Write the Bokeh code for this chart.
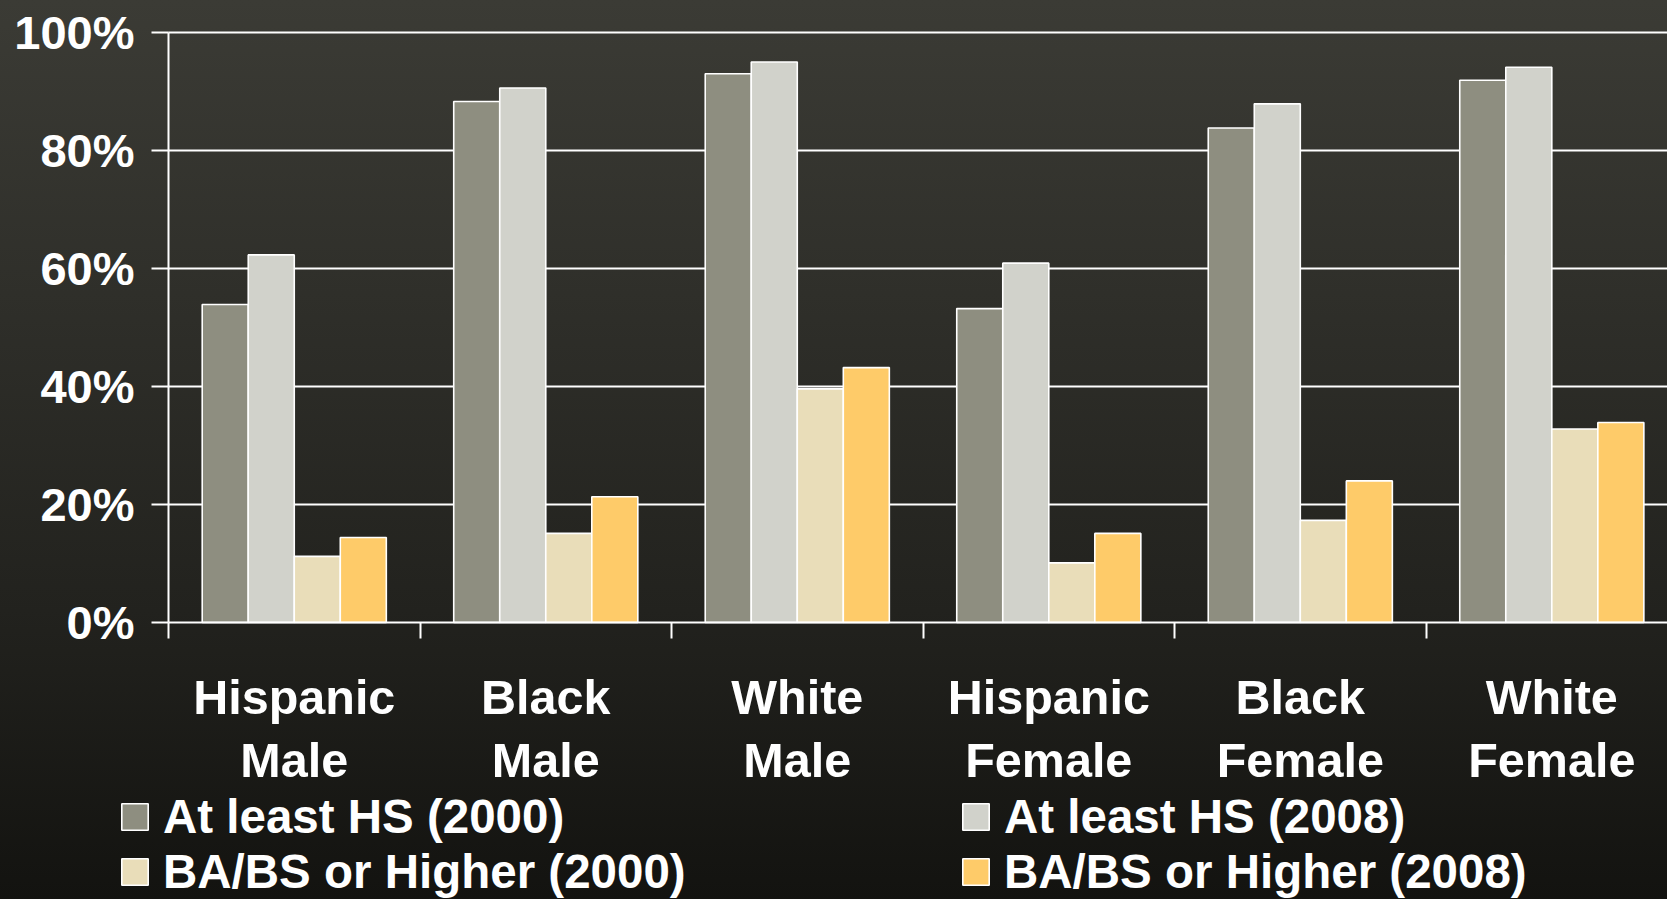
from bokeh.plotting import figure
from bokeh.models import (ColumnDataSource, FixedTicker, Legend, LegendItem, Range1d,
                          GlobalInlineStyleSheet, Grid)
from bokeh.embed import file_html
from bokeh.resources import INLINE

# ---- data ----
categories = ["Hispanic\nMale", "Black\nMale", "White\nMale",
              "Hispanic\nFemale", "Black\nFemale", "White\nFemale"]
series_names = ["At least HS (2000)", "At least HS (2008)",
                "BA/BS or Higher (2000)", "BA/BS or Higher (2008)"]
hs_2000 = [53.9, 88.3, 93.0, 53.2, 83.8, 91.9]
hs_2008 = [62.3, 90.6, 95.0, 60.9, 87.9, 94.1]
ba_2000 = [11.2, 15.1, 39.6, 10.1, 17.3, 32.8]
ba_2008 = [14.4, 21.3, 43.2, 15.1, 24.0, 33.9]
y_ticks = [0, 20, 40, 60, 80, 100]
y_tick_labels = ["0%", "20%", "40%", "60%", "80%", "100%"]
colors = ["#8e8e80", "#d1d2cb", "#e9ddb9", "#fecb69"]

series = [hs_2000, hs_2008, ba_2000, ba_2008]
FONT = "Liberation Sans"
bar_w = 0.183
offsets = [-1.5 * bar_w, -0.5 * bar_w, 0.5 * bar_w, 1.5 * bar_w]

X_START, X_END = -0.668, 5.960
Y_START, Y_END = -46.95, 105.42

p = figure(width=1667, height=899, output_backend="svg", toolbar_location=None,
           x_range=Range1d(X_START, X_END), y_range=Range1d(Y_START, Y_END),
           min_border_left=0, min_border_right=0, min_border_top=0,
           min_border_bottom=0)
p.border_fill_color = None
p.background_fill_color = None
p.outline_line_color = None

renderers = []
for k, vals in enumerate(series):
    src = ColumnDataSource(dict(x=[i + 0.5 + offsets[k] for i in range(len(categories))],
                                top=vals))
    r = p.vbar(x="x", top="top", width=bar_w, source=src, fill_color=colors[k],
               line_color="white", line_width=1.6)
    renderers.append(r)

# y axis, pinned at x = 0
p.yaxis.fixed_location = 0
p.yaxis.bounds = (0, 100)
p.yaxis.ticker = FixedTicker(ticks=y_ticks)
p.yaxis.major_label_overrides = {t: l for t, l in zip(y_ticks, y_tick_labels)}
p.yaxis.major_label_text_font = FONT
p.yaxis.major_label_text_font_style = "bold"
p.yaxis.major_label_text_font_size = "47px"
p.yaxis.major_label_text_color = "white"
p.yaxis.axis_line_color = "white"
p.yaxis.axis_line_width = 2
p.yaxis.major_tick_line_color = "white"
p.yaxis.major_tick_line_width = 2
p.yaxis.major_tick_out = 17
p.yaxis.major_tick_in = 0
p.yaxis.minor_tick_line_color = None
p.yaxis.major_label_standoff = 17

# x axis, pinned at y = 0
p.xaxis.fixed_location = 0
p.xaxis.bounds = (0, X_END)
p.xaxis.ticker = FixedTicker(ticks=[i + 0.5 for i in range(len(categories))],
                             minor_ticks=list(range(len(categories) + 1)))
p.xaxis.major_label_overrides = {i + 0.5: c for i, c in enumerate(categories)}
p.xaxis.major_label_text_font = FONT
p.xaxis.major_label_text_font_style = "bold"
p.xaxis.major_label_text_font_size = "48.5px"
p.xaxis.major_label_text_color = "white"
p.xaxis.major_label_text_line_height = 1.15
p.xaxis.major_tick_line_color = None
p.xaxis.major_tick_out = 0
p.xaxis.minor_tick_line_color = "white"
p.xaxis.minor_tick_line_width = 2
p.xaxis.minor_tick_out = 16
p.xaxis.minor_tick_in = 0
p.xaxis.axis_line_color = "white"
p.xaxis.axis_line_width = 2
p.xaxis.major_label_standoff = 32

p.xgrid.grid_line_color = None
p.ygrid.ticker = FixedTicker(ticks=y_ticks[1:])
if "cross_bounds" in Grid.properties():
    p.ygrid.cross_bounds = (0, X_END)
    p.ygrid.grid_line_color = "white"
    p.ygrid.grid_line_width = 2
else:
    p.ygrid.grid_line_color = None
    p.segment(x0=0, x1=X_END, y0=y_ticks[1:], y1=y_ticks[1:],
              line_color="white", line_width=2)

def make_legend(idx, loc):
    lg = Legend(items=[LegendItem(label=series_names[k], renderers=[renderers[k]]) for k in idx],
                location=loc, orientation="vertical")
    lg.label_text_font = FONT
    lg.label_text_font_style = "bold"
    lg.label_text_font_size = "47.5px"
    lg.label_text_color = "white"
    lg.glyph_width = 33
    lg.glyph_height = 33
    lg.label_standoff = 12
    lg.spacing = -3
    lg.padding = 0
    lg.margin = 0
    lg.border_line_color = None
    lg.background_fill_alpha = 0
    return lg

p.add_layout(make_legend([0, 2], (118, 0)))
p.add_layout(make_legend([1, 3], (959, 0)))

p.stylesheets = [GlobalInlineStyleSheet(css=
    "html { min-height: 100%; background: linear-gradient(to bottom, #3b3b35 0%, #22221e 68%, #131310 100%); }"
    " body { background: transparent; }")]

open("out.html", "w").write(file_html(p, INLINE))
